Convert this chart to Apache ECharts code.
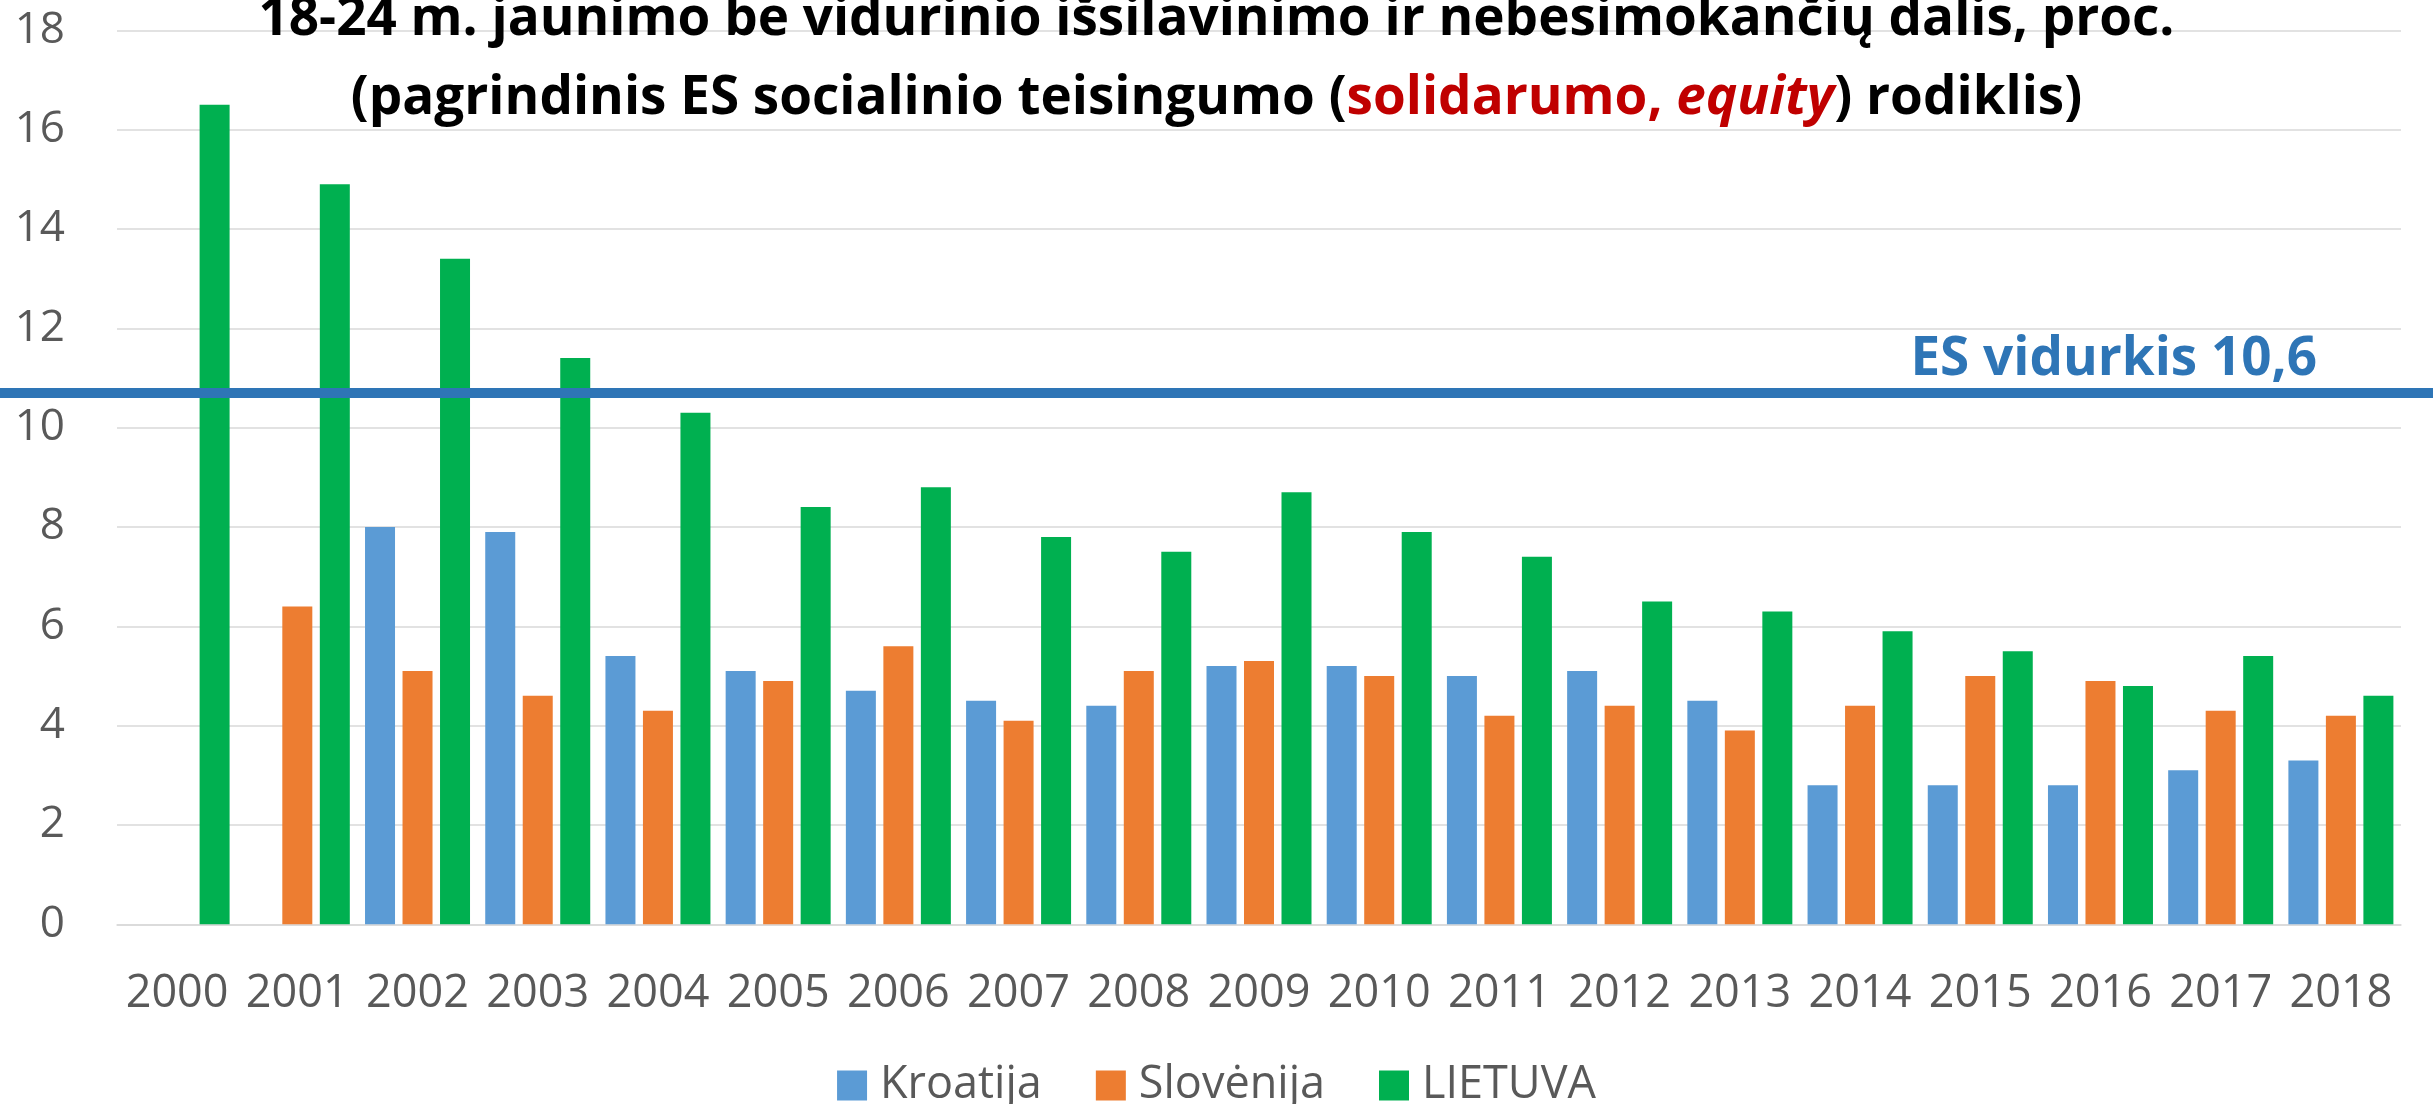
<!DOCTYPE html>
<html>
<head>
<meta charset="utf-8">
<script src="https://cdn.jsdelivr.net/npm/echarts@6/dist/echarts.min.js"></script>
<style>
html,body{margin:0;padding:0;background:#fff;}
#chart{width:2433px;height:1104px;}
</style>
</head>
<body>
<div id="chart"></div>
<script>
const years = ['2000','2001','2002','2003','2004','2005','2006','2007','2008','2009','2010','2011','2012','2013','2014','2015','2016','2017','2018'];
const kroatija = [null, null, 8.0, 7.9, 5.4, 5.1, 4.7, 4.5, 4.4, 5.2, 5.2, 5.0, 5.1, 4.5, 2.8, 2.8, 2.8, 3.1, 3.3];
const slovenija = [null, 6.4, 5.1, 4.6, 4.3, 4.9, 5.6, 4.1, 5.1, 5.3, 5.0, 4.2, 4.4, 3.9, 4.4, 5.0, 4.9, 4.3, 4.2];
const lietuva = [16.5, 14.9, 13.4, 11.4, 10.3, 8.4, 8.8, 7.8, 7.5, 8.7, 7.9, 7.4, 6.5, 6.3, 5.9, 5.5, 4.8, 5.4, 4.6];
const esAverageLine = 10.7;   // drawn position of the EU average line
const esAverageLabel = 'ES vidurkis 10,6';
const yTicks = [0, 2, 4, 6, 8, 10, 12, 14, 16, 18];

const FONT = "'Open Sans', 'DejaVu Sans', sans-serif";
const chart = echarts.init(document.getElementById('chart'));

const option = {
  backgroundColor: '#ffffff',
  animation: false,
  title: {
    left: 'center',
    top: -25,
    text: '18-24 m. jaunimo be vidurinio išsilavinimo ir nebesimokančių dalis, proc.\n(pagrindinis ES socialinio teisingumo ({r|solidarumo, }{ri|equity}) rodiklis)',
    textStyle: {
      fontFamily: FONT, fontSize: 53, fontWeight: 'bold', color: '#000000', lineHeight: 79,
      rich: {
        r: { fontFamily: FONT, fontSize: 53, fontWeight: 'bold', color: '#c00000', lineHeight: 79 },
        ri: { fontFamily: FONT, fontSize: 53, fontWeight: 'bold', fontStyle: 'italic', color: '#c00000', lineHeight: 79 }
      }
    }
  },
  legend: {
    top: 1058,
    left: 'center',
    icon: 'rect',
    itemWidth: 30,
    itemHeight: 30,
    itemGap: 54,
    textStyle: { fontFamily: FONT, fontSize: 45, color: '#595959', padding: [0, 0, 0, 8] },
    data: ['Kroatija', 'Slovėnija', 'LIETUVA']
  },
  grid: [
    { left: 117, right: 32, top: 30.3, bottom: 179.7, containLabel: false },
    { left: 0, right: 0, top: 30.3, bottom: 179.7, containLabel: false }
  ],
  xAxis: [
    {
      type: 'category', gridIndex: 0, data: years,
      axisLine: { lineStyle: { color: '#d9d9d9', width: 1.5 } },
      axisTick: { show: false },
      axisLabel: { fontFamily: FONT, fontSize: 45, color: '#595959', margin: 47, interval: 0 }
    },
    { type: 'value', gridIndex: 1, min: 0, max: 1, show: false }
  ],
  yAxis: [
    {
      type: 'value', gridIndex: 0, min: 0, max: 18, interval: 2,
      axisLine: { show: false }, axisTick: { show: false },
      splitLine: { lineStyle: { color: '#d9d9d9', width: 1.5 } },
      axisLabel: { fontFamily: FONT, fontSize: 44, color: '#595959', margin: 52,
        formatter: v => yTicks.includes(v) ? String(v) : '' }
    },
    { type: 'value', gridIndex: 1, min: 0, max: 18, show: false }
  ],
  series: [
    { name: 'Kroatija', type: 'bar', data: kroatija, barWidth: 30, barGap: '25%', itemStyle: { color: '#5b9bd5' } },
    { name: 'Slovėnija', type: 'bar', data: slovenija, barWidth: 30, barGap: '25%', itemStyle: { color: '#ed7d31' } },
    { name: 'LIETUVA', type: 'bar', data: lietuva, barWidth: 30, barGap: '25%', itemStyle: { color: '#00b050' } },
    {
      name: 'ES vidurkis', type: 'line', xAxisIndex: 1, yAxisIndex: 1, data: [],
      silent: true,
      markLine: {
        silent: true,
        symbol: ['none', 'none'],
        lineStyle: { color: '#2e75b6', width: 10, type: 'solid' },
        label: {
          show: true, position: 'insideEndTop', distance: [116, 6],
          formatter: esAverageLabel,
          fontFamily: FONT, fontSize: 53, fontWeight: 'bold', color: '#2e75b6'
        },
        data: [{ yAxis: esAverageLine }]
      }
    }
  ]
};
chart.setOption(option);
</script>
</body>
</html>
